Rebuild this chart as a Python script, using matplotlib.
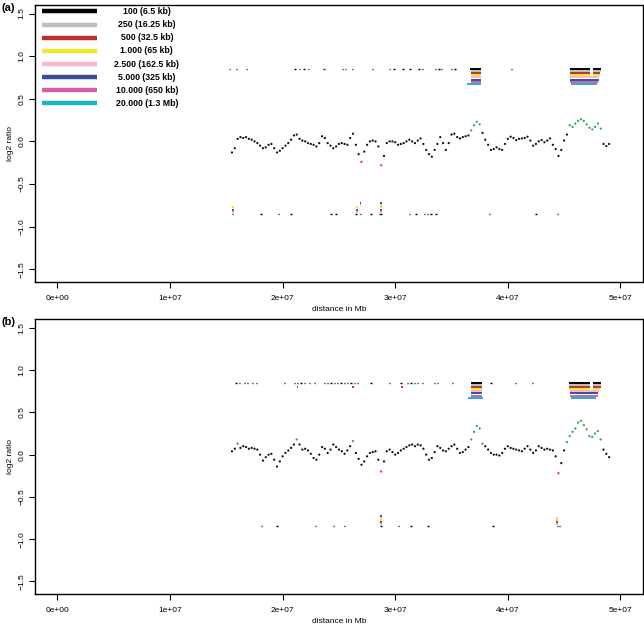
import numpy as np
import matplotlib.pyplot as plt

plt.rcParams['font.family'] = ['Liberation Sans', 'DejaVu Sans']

# smoothed log2 ratio, one value every 0.25 Mb from 15.5 Mb on
start_mb = 15.5
step_mb = 0.25

ratio_a = [
    -0.13, -0.08, 0.03, 0.05,   0.04, 0.05, 0.03, 0.02,
    0.0, -0.02, -0.05, -0.08,   -0.07, -0.04, -0.03, -0.08,
    -0.13, -0.11, -0.08, -0.05,  -0.02, 0.02, 0.07, 0.08,
    0.03, 0.01, 0.0, -0.02,     -0.03, -0.04, -0.06, -0.02,
    0.06, 0.04, -0.02, -0.05,   -0.08, -0.06, -0.03, -0.02,
    -0.03, -0.04, 0.04, 0.09,   -0.04, -0.15, -0.24, -0.12,
    -0.04, 0.0, 0.01, 0.0,      -0.06, -0.28, -0.17, -0.02,
    0.0, 0.0, -0.01, -0.04,     -0.03, -0.02, 0.0, 0.02,
    0.0, -0.02, 0.01, 0.035,    -0.03, -0.1, -0.15, -0.18,
    -0.1, -0.03, 0.05, -0.02,   -0.1, -0.02, 0.08, 0.09,
    0.05, 0.035, 0.05, 0.06,    0.07, 0.13, 0.19, 0.23,
    0.2, 0.1, 0.02, -0.04,      -0.1, -0.09, -0.07, -0.09,
    -0.1, -0.03, 0.03, 0.055,   0.04, 0.015, 0.03, 0.035,
    0.04, 0.055, 0.01, -0.05,   -0.03, 0.0, 0.015, -0.01,
    0.01, 0.035, -0.04, -0.09,  -0.17, -0.1, 0.01, 0.08,
    0.19, 0.17, 0.21, 0.24,     0.26, 0.24, 0.2, 0.16,
    0.14, 0.17, 0.21, 0.15,     -0.03, -0.055, -0.03,
]

ratio_b = [
    0.04, 0.07, 0.13, 0.08,     0.1, 0.09, 0.07, 0.08,
    0.07, 0.06, 0.0, -0.07,     -0.03, 0.0, 0.01, -0.06,
    -0.14, -0.08, -0.02, 0.02,  0.05, 0.08, 0.12, 0.18,
    0.12, 0.06, 0.07, 0.05,     0.01, -0.04, -0.06, 0.0,
    0.09, 0.07, 0.02, 0.06,     0.12, 0.09, 0.06, 0.04,
    0.01, 0.05, 0.1, 0.16,      0.02, -0.05, -0.12, -0.08,
    -0.02, 0.02, 0.03, 0.04,    -0.06, -0.2, -0.08, 0.04,
    0.06, 0.03, 0.0, 0.02,      0.05, 0.07, 0.09, 0.11,
    0.12, 0.1, 0.12, 0.11,      0.07, 0.0, -0.06, -0.04,
    0.03, 0.1, 0.08, 0.05,      0.04, 0.07, 0.1, 0.12,
    0.07, 0.02, 0.03, 0.06,     0.09, 0.18, 0.27, 0.34,
    0.31, 0.13, 0.1, 0.06,      0.02, 0.0, 0.0, -0.01,
    0.02, 0.07, 0.1, 0.08,      0.07, 0.06, 0.05, 0.04,
    0.07, 0.1, 0.06, 0.02,      0.05, 0.1, 0.08, 0.06,
    0.07, 0.06, 0.05, -0.02,    -0.22, -0.1, 0.05, 0.15,
    0.22, 0.27, 0.31, 0.38,     0.4, 0.35, 0.3, 0.22,
    0.21, 0.25, 0.28, 0.18,     0.06, 0.01, -0.03,
]

level_names = ["100 (6.5 kb)", "250 (16.25 kb)", "500 (32.5 kb)", "1.000 (65 kb)",
               "2.500 (162.5 kb)", "5.000 (325 kb)", "10.000 (650 kb)", "20.000 (1.3 Mb)"]
level_colors = ["#000000", "#bebebe", "#b83232", "#eee82a",
                "#f6b9cb", "#3c4c9c", "#d062a4", "#1fb2c8"]

# single calls at the finest level (100 probes), positions in Mb
gain_ticks_a = [15.3, 15.9, 16.8, 21.1, 21.5, 21.9, 22.3, 23.6, 23.7, 25.3, 25.6, 26.2,
                28.0, 29.5, 29.9, 30.7, 31.3, 32.1, 32.4, 33.6, 33.9, 34.1, 35.0, 35.3, 40.3]
loss_ticks_a = [15.57, 18.09, 19.65, 20.75, 24.3, 24.75, 26.53, 26.91, 27.86, 28.6, 28.75,
                31.26, 31.86, 32.6, 32.88, 33.19, 33.63, 38.4, 42.5, 44.4]
gain_ticks_b = [15.87, 16.16, 16.61, 16.9, 17.35, 17.65, 20.16, 21.05, 21.34, 21.64, 21.94,
                22.38, 22.82, 23.71, 24.0, 24.3, 24.6, 24.9, 25.19, 25.49, 25.78, 26.08,
                26.38, 26.67, 27.86, 29.48, 30.52, 31.11, 31.41, 31.71, 32.0, 32.44,
                33.48, 33.77, 35.1, 38.5, 40.7, 42.2]
loss_ticks_b = [18.1, 19.5, 22.9, 24.5, 25.5, 28.75, 30.3, 31.4, 32.9, 38.7, 44.4, 44.6]

# called regions per window level (start, end) in Mb
gain_segs_a = [
    [(36.6, 37.6), (45.5, 47.3), (47.6, 48.3)],
    [(36.7, 37.6), (45.5, 47.3), (47.6, 48.3)],
    [(36.7, 37.6), (45.5, 47.3), (47.6, 48.2)],
    [(36.7, 37.6), (45.5, 47.3), (47.6, 48.2)],
    [(36.7, 37.6), (45.5, 48.1)],
    [(36.7, 37.6), (45.5, 48.1)],
    [(36.7, 37.6), (45.5, 48.0)],
    [(36.4, 37.6), (45.6, 47.9)],
]
loss_segs_a = [
    [],
    [(15.5, 15.65), (26.5, 26.65), (28.65, 28.85)],
    [(15.5, 15.65), (26.5, 26.65), (28.65, 28.85)],
    [(15.5, 15.65), (26.5, 26.65), (28.65, 28.85)],
    [(26.85, 27.0), (28.65, 28.85)],
    [(26.85, 27.0), (28.65, 28.85)],
    [],
    [],
]
gain_segs_b = [
    [(36.7, 37.7), (45.4, 47.3), (47.6, 48.3)],
    [(36.7, 37.7), (45.4, 47.3), (47.6, 48.3)],
    [(21.25, 21.4), (26.15, 26.3), (30.55, 30.7), (36.7, 37.7), (45.4, 47.3), (47.6, 48.3)],
    [(36.7, 37.7), (45.4, 47.3), (47.6, 48.2)],
    [(36.7, 37.7), (45.5, 48.1)],
    [(36.7, 37.7), (45.5, 48.0)],
    [(36.7, 37.7), (45.5, 48.0)],
    [(36.5, 37.8), (45.6, 47.8)],
]
loss_segs_b = [
    [],
    [(28.65, 28.85), (44.3, 44.5)],
    [(28.65, 28.85), (44.3, 44.5)],
    [(28.65, 28.85), (44.3, 44.5)],
    [(28.65, 28.85), (44.3, 44.5)],
    [(28.65, 28.85)],
    [],
    [],
]

xtick_pos = [0, 1e7, 2e7, 3e7, 4e7, 5e7]
xtick_lab = ["0e+00", "1e+07", "2e+07", "3e+07", "4e+07", "5e+07"]
ytick_pos = [-1.5, -1.0, -0.5, 0.0, 0.5, 1.0, 1.5]

fig = plt.figure(figsize=(6.44, 6.24), dpi=100)
ax_a = fig.add_axes([0.0543, 0.548, 0.944, 0.444])
ax_b = fig.add_axes([0.0543, 0.048, 0.944, 0.440])


def draw_panel(ax, ratio, gain_ticks, loss_ticks, gain_segs, loss_segs, tag, legend):
    ratio = np.array(ratio)
    pos = (start_mb + step_mb * np.arange(len(ratio))) * 1e6
    cols = np.where(ratio >= 0.13, "#2ea84a", np.where(ratio <= -0.19, "#e0303a", "#111111"))
    ax.scatter(pos, ratio, s=2.6, c=cols, linewidths=0, zorder=3)

    ax.hlines([0.85] * len(gain_ticks), np.array(gain_ticks) * 1e6 - 6e4,
              np.array(gain_ticks) * 1e6 + 6e4, color="#000000", lw=1.0)
    ax.hlines([-0.85] * len(loss_ticks), np.array(loss_ticks) * 1e6 - 6e4,
              np.array(loss_ticks) * 1e6 + 6e4, color="#000000", lw=1.0)
    for k in range(8):
        for s, e in gain_segs[k]:
            ax.hlines(0.85 - 0.025 * k, s * 1e6, e * 1e6, color=level_colors[k], lw=1.4)
        for s, e in loss_segs[k]:
            ax.hlines(-0.85 + 0.025 * k, s * 1e6, e * 1e6, color=level_colors[k], lw=1.4)

    ax.set_xlim(-2.0e6, 5.2e7)
    ax.set_ylim(-1.65, 1.6)
    ax.set_xticks(xtick_pos)
    ax.set_xticklabels(xtick_lab, fontsize=6)
    ax.set_yticks(ytick_pos)
    ax.set_yticklabels([f"{v:.1f}".replace("-", "\u2212") for v in ytick_pos],
                       fontsize=6, rotation=90, va="center")
    ax.tick_params(direction="out", length=4, width=0.8, pad=3)
    ax.tick_params(axis="x", pad=5)
    for sp in ax.spines.values():
        sp.set_linewidth(1.0)
    ax.set_xlabel("distance in Mb", fontsize=6, labelpad=3)
    ax.set_ylabel("log2 ratio", fontsize=6, labelpad=3)
    ax.text(-0.055, 0.99, tag, transform=ax.transAxes, fontsize=8, fontweight="bold",
            ha="left", va="center")

    if legend:
        for i, (name, c) in enumerate(zip(level_names, level_colors)):
            y = 0.977 - i * 0.0475
            ax.plot([0.0115, 0.102], [y, y], transform=ax.transAxes, color=c, lw=3.2,
                    solid_capstyle="butt")
            ax.text(0.184, y, name, transform=ax.transAxes, fontsize=6.3,
                    fontweight="bold", ha="center", va="center")


draw_panel(ax_a, ratio_a, gain_ticks_a, loss_ticks_a, gain_segs_a, loss_segs_a, "(a)", True)
draw_panel(ax_b, ratio_b, gain_ticks_b, loss_ticks_b, gain_segs_b, loss_segs_b, "(b)", False)

fig.savefig("out.png", dpi=100)
